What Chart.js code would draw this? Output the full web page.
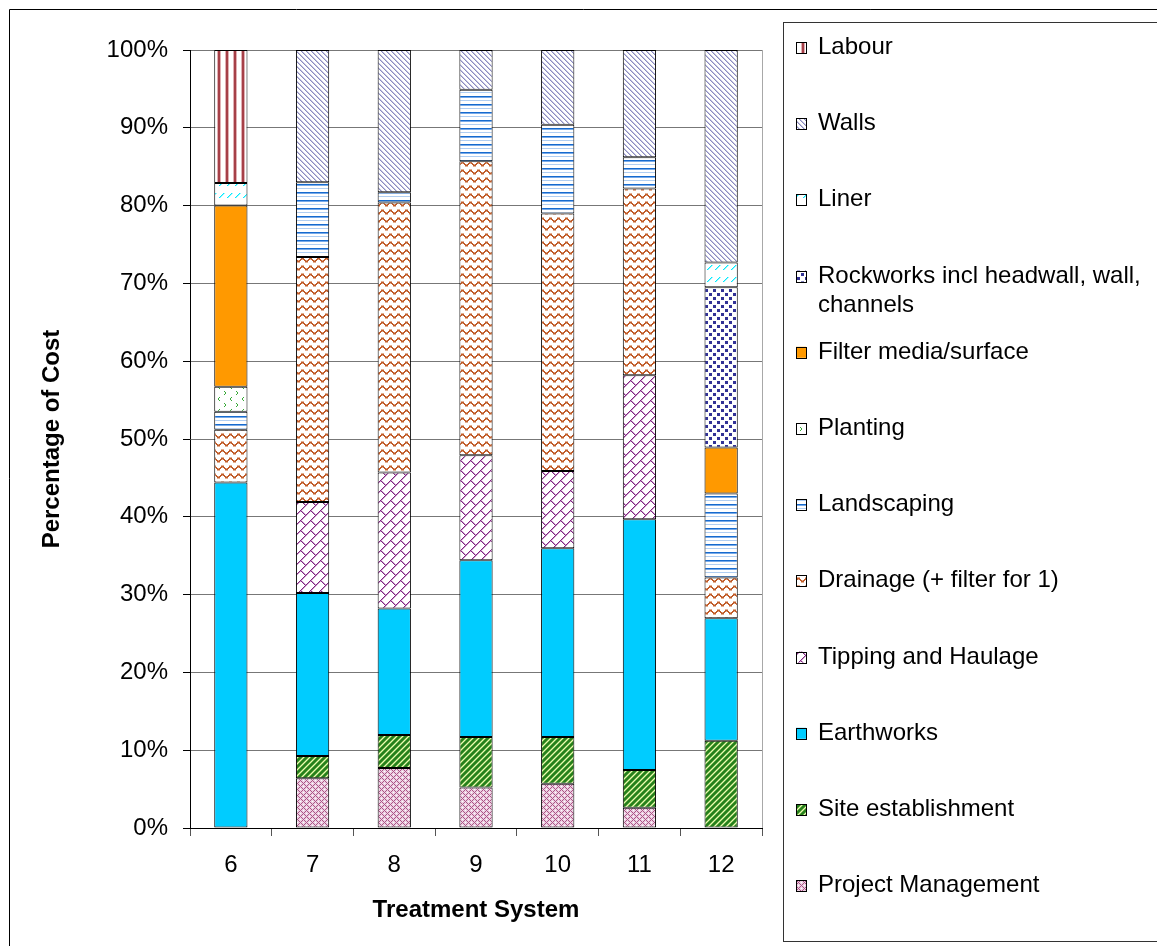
<!DOCTYPE html>
<html>
<head>
<meta charset="utf-8">
<script src="https://cdn.jsdelivr.net/npm/chart.js@4.4.1/dist/chart.umd.min.js"></script>
<style>
  html, body { margin: 0; padding: 0; background: #fff; }
  #wrap { width: 1157px; height: 946px; }
</style>
</head>
<body>
<div id="wrap"><canvas id="c" width="1157" height="946"></canvas></div>
<script>
// Treatment systems on the category axis
const categories = ['6', '7', '8', '9', '10', '11', '12'];

// Share of total cost (%) per cost item, stacked bottom to top
const projectManagement = [null, 6.4, 7.7, 5.2, 5.7, 2.6, null];
const siteEstablishment = [null, 2.85, 4.25, 6.5, 6.0, 4.85, 11.2];
const earthworks        = [44.4, 20.95, 16.25, 22.7, 24.25, 32.25, 15.75];
const tippingHaulage    = [null, 11.7, 17.5, 13.5, 9.95, 18.5, null];
const drainage          = [6.8, 31.5, 34.7, 37.8, 33.1, 24.0, 5.25];
const landscaping       = [2.3, 9.6, 1.3, 9.2, 11.4, 4.0, 10.8];
const planting          = [3.2, null, null, null, null, null, null];
const filterMedia       = [23.3, null, null, null, null, null, 5.9];
const rockworks         = [null, null, null, null, null, null, 20.6];
const liner             = [2.9, null, null, null, null, null, 3.2];
const walls             = [null, 17.0, 18.3, 5.1, 9.6, 13.8, 27.3];
const labour            = [17.1, null, null, null, null, null, null];

const seriesNames = [
  'Project Management', 'Site establishment', 'Earthworks', 'Tipping and Haulage',
  'Drainage (+ filter for 1)', 'Landscaping', 'Planting', 'Filter media/surface',
  'Rockworks incl headwall, wall, channels', 'Liner', 'Walls', 'Labour'
];
const seriesValues = [
  projectManagement, siteEstablishment, earthworks, tippingHaulage,
  drainage, landscaping, planting, filterMedia, rockworks, liner, walls, labour
];

const yTickStep = 10;
const yMax = 100;

const canvas = document.getElementById('c');
const mainCtx = canvas.getContext('2d');

// Build a repeating fill from a per-pixel painter
function tile(w, h, paint) {
  const t = document.createElement('canvas');
  t.width = w; t.height = h;
  const g = t.getContext('2d');
  const img = g.createImageData(w, h);
  for (let y = 0; y < h; y++) {
    for (let x = 0; x < w; x++) {
      const c = paint(x, y) || [255, 255, 255];
      const i = (y * w + x) * 4;
      img.data[i] = c[0]; img.data[i + 1] = c[1]; img.data[i + 2] = c[2]; img.data[i + 3] = 255;
    }
  }
  g.putImageData(img, 0, 0);
  return mainCtx.createPattern(t, 'repeat');
}
const mod = (a, n) => ((a % n) + n) % n;

const fills = {
  pm: tile(6, 6, (x, y) => {
    const a = mod(x + y, 6), b = mod(x - y, 6);
    if (a === 0 || b === 0) return [172, 84, 134];
    if (a === 3 && b === 3) return [255, 255, 255];
    return [236, 208, 226];
  }),
  site: tile(6, 6, (x, y) => {
    const s = mod(x + y, 6);
    if (s <= 2) return [38, 128, 30];
    if (s === 4) return [232, 246, 190];
    return [130, 190, 80];
  }),
  earth: '#00CCFF',
  tipping: tile(20, 20, (x, y) => {
    const P = 10;
    const u = x + y;
    if (mod(u, P) === 0) return [128, 36, 128];
    if (mod(u, P) === 1) return [205, 160, 205];
    const row = Math.floor(u / P) % 2;
    const v = mod(x - y, 2 * P);
    const target = row ? P : 0;
    if (v === target) return [128, 36, 128];
    if (v === mod(target + 1, 2 * P)) return [205, 160, 205];
    return null;
  }),
  drain: tile(8, 8, (x, y) => {
    const yc = 3.5 + 1.6 * Math.sin(2 * Math.PI * x / 8);
    const d = Math.abs(y - yc);
    if (d < 0.8) return [192, 92, 42];
    if (d < 1.5) return [228, 176, 146];
    return null;
  }),
  landscape: tile(1, 8, (x, y) => {
    if (y === 0) return [22, 106, 206];
    if (y === 1) return [120, 170, 232];
    if (y === 4) return [176, 206, 242];
    return null;
  }),
  planting: tile(12, 12, (x, y) => {
    const g = [56, 168, 56];
    if ((x === 3 && y === 1) || (x === 2 && y === 2) || (x === 2 && y === 3) || (x === 3 && y === 4)) return g;
    if ((x === 8 && y === 7) || (x === 9 && y === 8) || (x === 9 && y === 9) || (x === 8 && y === 10)) return g;
    return null;
  }),
  filter: '#FF9900',
  rock: tile(8, 8, (x, y) => {
    if (x >= 1 && x <= 3 && y >= 1 && y <= 3) return [50, 50, 150];
    if (x >= 5 && x <= 7 && y >= 5 && y <= 7) return [50, 50, 150];
    return null;
  }),
  liner: tile(8, 12, (x, y) => {
    if (y >= 1 && y <= 5) {
      const s = mod(x + y, 8);
      if (s === 0) return [0, 235, 255];
      if (s === 1) return [150, 245, 255];
    }
    return null;
  }),
  walls: tile(5, 5, (x, y) => {
    const d = mod(x - y, 5);
    if (d === 0) return [140, 140, 192];
    if (d === 1) return [196, 196, 226];
    return null;
  }),
  labour: tile(8, 1, (x) => {
    if (x === 2 || x === 3) return [166, 64, 72];
    if (x === 1 || x === 4) return [224, 176, 180];
    return null;
  })
};
const fillOrder = ['pm', 'site', 'earth', 'tipping', 'drain', 'landscape', 'planting', 'filter', 'rock', 'liner', 'walls', 'labour'];

const FONT = "'Liberation Sans', Arial, sans-serif";

// Outer frame, plot edge and the boxed legend on the right
const framePlugin = {
  id: 'frame',
  beforeDraw(chart) {
    const ctx = chart.ctx;
    ctx.save();
    ctx.fillStyle = '#fff';
    ctx.fillRect(0, 0, chart.width, chart.height);
    ctx.restore();
  },
  afterDraw(chart) {
    const ctx = chart.ctx;
    const a = chart.chartArea;
    ctx.save();
    ctx.lineWidth = 1;
    ctx.strokeStyle = '#000';
    ctx.beginPath();
    ctx.moveTo(9.5, chart.height + 5);
    ctx.lineTo(9.5, 9.5);
    ctx.lineTo(chart.width + 5, 9.5);
    ctx.stroke();

    ctx.strokeStyle = '#a8a8a8';
    ctx.beginPath();
    ctx.moveTo(Math.round(a.right) + 0.5, a.top);
    ctx.lineTo(Math.round(a.right) + 0.5, a.bottom);
    ctx.stroke();

    // legend box
    ctx.strokeStyle = '#333';
    ctx.strokeRect(783.5, 22.5, 600, 919);

    ctx.font = '24px ' + FONT;
    ctx.fillStyle = '#000';
    ctx.textBaseline = 'alphabetic';
    ctx.textAlign = 'left';
    const items = chart.data.datasets.slice().reverse();
    const maxW = 330, lineGap = 29, first = 54, step = 76.2;
    items.forEach((ds, i) => {
      const base = first + step * i;
      ctx.fillStyle = ds.backgroundColor;
      ctx.fillRect(796, base - 12, 10, 11);
      ctx.strokeStyle = '#000';
      ctx.strokeRect(796.5, Math.round(base - 12) + 0.5, 10, 11);
      // word wrap
      const words = ds.label.split(' ');
      const lines = [];
      let cur = '';
      words.forEach(w => {
        const t = cur ? cur + ' ' + w : w;
        if (ctx.measureText(t).width > maxW && cur) { lines.push(cur); cur = w; } else { cur = t; }
      });
      if (cur) lines.push(cur);
      ctx.fillStyle = '#000';
      lines.forEach((ln, k) => ctx.fillText(ln, 818, base + k * lineGap));
    });
    ctx.restore();
  }
};

new Chart(canvas, {
  type: 'bar',
  data: {
    labels: categories,
    datasets: seriesValues.map((vals, i) => ({
      label: seriesNames[i],
      data: vals,
      backgroundColor: fills[fillOrder[i]]
    }))
  },
  options: {
    responsive: false,
    animation: false,
    devicePixelRatio: 1,
    layout: { padding: { top: 50, right: 395, bottom: 0, left: 0 } },
    plugins: { legend: { display: false }, tooltip: { enabled: false } },
    datasets: {
      bar: {
        categoryPercentage: 1,
        barPercentage: 0.407,
        borderColor: '#000',
        borderWidth: 1,
        borderSkipped: false
      }
    },
    scales: {
      x: {
        stacked: true,
        grid: { display: true, drawOnChartArea: false, offset: true, tickLength: 8, color: '#555' },
        border: { color: '#000', width: 1 },
        ticks: { color: '#000', font: { family: FONT, size: 24 }, padding: 15, maxRotation: 0 },
        title: {
          display: true, text: 'Treatment System', color: '#000',
          font: { family: FONT, size: 24, weight: 'bold' },
          padding: { top: 0, bottom: 21 }
        },
        afterFit(scale) { scale.height = 118; }
      },
      y: {
        stacked: true,
        min: 0,
        max: yMax,
        grid: { color: '#777', tickLength: 7, tickColor: '#000' },
        border: { color: '#000', width: 1 },
        ticks: {
          stepSize: yTickStep,
          color: '#000',
          font: { family: FONT, size: 24 },
          padding: 15,
          callback: v => v + '%'
        },
        title: {
          display: true, text: 'Percentage of Cost', color: '#000',
          font: { family: FONT, size: 24, weight: 'bold' },
          padding: { top: 38, bottom: 0 }
        },
        afterFit(scale) { scale.width = 190; }
      }
    }
  },
  plugins: [framePlugin]
});
</script>
</body>
</html>
